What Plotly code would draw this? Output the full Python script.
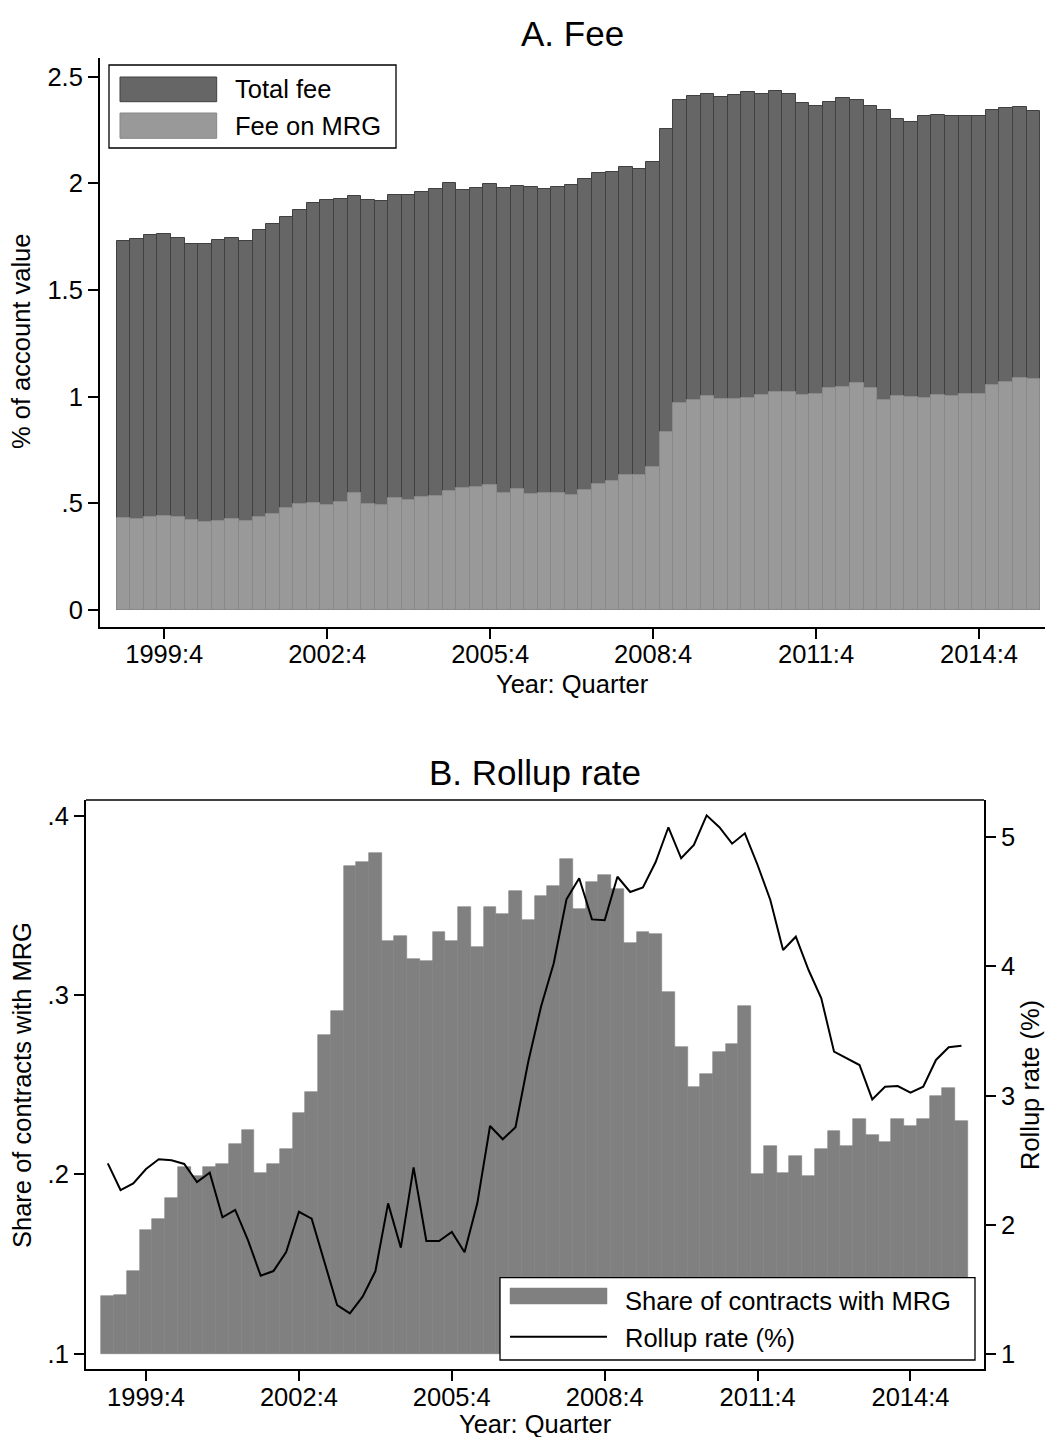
import plotly.graph_objects as go

# ---- data -------------------------------------------------------------
quarters = [f"{y}:{q}" for y in range(1999, 2016) for q in range(1, 5)]
tick_quarters = ["1999:4", "2002:4", "2005:4", "2008:4", "2011:4", "2014:4"]

total_fee = [
    1.730, 1.741, 1.756, 1.761, 1.745, 1.717, 1.717, 1.733, 1.745, 1.731,
    1.783, 1.808, 1.841, 1.873, 1.906, 1.920, 1.925, 1.939, 1.920, 1.916,
    1.947, 1.947, 1.961, 1.975, 2.002, 1.970, 1.980, 1.997, 1.978, 1.988,
    1.984, 1.973, 1.983, 1.994, 2.022, 2.050, 2.055, 2.077, 2.069, 2.102,
    2.256, 2.392, 2.411, 2.420, 2.406, 2.412, 2.430, 2.420, 2.434, 2.420,
    2.378, 2.362, 2.383, 2.400, 2.392, 2.364, 2.345, 2.302, 2.289, 2.316,
    2.322, 2.316, 2.314, 2.316, 2.345, 2.355, 2.359, 2.339,
]
mrg_fee = [
    0.430, 0.425, 0.434, 0.439, 0.437, 0.420, 0.414, 0.419, 0.425, 0.419,
    0.437, 0.448, 0.477, 0.498, 0.500, 0.494, 0.505, 0.547, 0.498, 0.491,
    0.523, 0.516, 0.528, 0.536, 0.559, 0.570, 0.575, 0.584, 0.550, 0.566,
    0.545, 0.550, 0.550, 0.539, 0.561, 0.592, 0.603, 0.634, 0.634, 0.669,
    0.836, 0.972, 0.984, 1.002, 0.989, 0.989, 0.995, 1.009, 1.023, 1.023,
    1.009, 1.014, 1.042, 1.047, 1.066, 1.042, 0.986, 1.005, 0.998, 0.995,
    1.009, 1.005, 1.014, 1.014, 1.056, 1.070, 1.089, 1.083,
]
share_mrg = [
    0.132, 0.133, 0.146, 0.169, 0.175, 0.187, 0.204, 0.199, 0.204, 0.206,
    0.217, 0.225, 0.201, 0.206, 0.214, 0.234, 0.246, 0.278, 0.291, 0.372,
    0.374, 0.379, 0.330, 0.333, 0.320, 0.319, 0.335, 0.330, 0.349, 0.327,
    0.349, 0.345, 0.358, 0.342, 0.355, 0.361, 0.376, 0.348, 0.363, 0.367,
    0.359, 0.329, 0.335, 0.334, 0.302, 0.271, 0.249, 0.256, 0.268, 0.273,
    0.294, 0.200, 0.216, 0.201, 0.210, 0.199, 0.214, 0.224, 0.216, 0.231,
    0.222, 0.218, 0.231, 0.227, 0.231, 0.244, 0.248, 0.230,
]
rollup_rate = [
    2.476, 2.269, 2.321, 2.432, 2.507, 2.499, 2.471, 2.331, 2.403, 2.058,
    2.115, 1.882, 1.606, 1.642, 1.789, 2.101, 2.047, 1.707, 1.379, 1.315,
    1.444, 1.640, 2.166, 1.823, 2.445, 1.875, 1.875, 1.944, 1.787, 2.166,
    2.765, 2.662, 2.755, 3.262, 3.688, 4.024, 4.519, 4.682, 4.364, 4.357,
    4.694, 4.576, 4.612, 4.808, 5.077, 4.837, 4.940, 5.169, 5.077, 4.950,
    5.030, 4.785, 4.514, 4.127, 4.230, 3.972, 3.753, 3.340, 3.289, 3.237,
    2.971, 3.069, 3.074, 3.023, 3.069, 3.276, 3.374, 3.386,
]
share_base = 0.1

fee_ticks = [0, 0.5, 1, 1.5, 2, 2.5]
fee_ticktext = ["0", ".5", "1", "1.5", "2", "2.5"]
share_ticks = [0.1, 0.2, 0.3, 0.4]
share_ticktext = [".1", ".2", ".3", ".4"]
rate_ticks = [1, 2, 3, 4, 5]

# ---- page geometry (pixels) -------------------------------------------
W, H = 1045, 1437
FONT = "Liberation Sans, Arial, sans-serif"
TICK_SIZE = 25.5
TITLE_SIZE = 35


def px(x):
    return x / W


def py(y):
    return 1 - y / H


fig = go.Figure()

# Panel A: total fee with the MRG part overlaid
fig.add_trace(go.Bar(
    x=quarters, y=total_fee, name="Total fee",
    marker=dict(color="#666666", line=dict(color="#404040", width=1)),
    xaxis="x", yaxis="y", showlegend=False,
))
fig.add_trace(go.Bar(
    x=quarters, y=mrg_fee, name="Fee on MRG",
    marker=dict(color="#999999", line=dict(color="#888888", width=1)),
    xaxis="x", yaxis="y", showlegend=False,
))

# Panel B: share of contracts (bars from .1) and rollup rate (right axis)
fig.add_trace(go.Bar(
    x=quarters, y=[s - share_base for s in share_mrg], base=share_base,
    name="Share of contracts with MRG",
    marker=dict(color="#808080", line=dict(color="#808080", width=0.6)),
    xaxis="x2", yaxis="y2", showlegend=False,
))
fig.add_trace(go.Scatter(
    x=quarters, y=rollup_rate, mode="lines", name="Rollup rate (%)",
    line=dict(color="black", width=2),
    xaxis="x2", yaxis="y3", showlegend=False,
))

axis_common = dict(
    showline=True, linecolor="black", linewidth=2,
    ticks="outside", ticklen=10, tickwidth=1.5, tickcolor="black",
    showgrid=False, zeroline=False,
    tickfont=dict(family=FONT, size=TICK_SIZE, color="black"),
)

fig.update_layout(
    width=W, height=H,
    margin=dict(l=0, r=0, t=0, b=0),
    paper_bgcolor="white", plot_bgcolor="white",
    barmode="overlay", bargap=0,
    font=dict(family=FONT, size=TICK_SIZE, color="black"),
    xaxis=dict(
        domain=[px(100), 1.0], anchor="y", type="category",
        categoryorder="array", categoryarray=quarters,
        range=[-1.73, 67.86], tickvals=tick_quarters, ticktext=tick_quarters,
        ticklabelstandoff=-7,
        **axis_common,
    ),
    yaxis=dict(
        domain=[py(627), py(58)], anchor="x",
        range=[-0.0797, 2.5875], tickvals=fee_ticks, ticktext=fee_ticktext,
        **axis_common,
    ),
    xaxis2=dict(
        domain=[px(86), px(984)], anchor="y2", type="category",
        categoryorder="array", categoryarray=quarters,
        range=[-1.711, 68.77], tickvals=tick_quarters, ticktext=tick_quarters,
        ticklabelstandoff=-6,
        **axis_common,
    ),
    yaxis2=dict(
        domain=[py(1369.3), py(800)], anchor="x2",
        range=[0.0913, 0.4088], tickvals=share_ticks, ticktext=share_ticktext,
        **axis_common,
    ),
    yaxis3=dict(
        overlaying="y2", side="right", anchor="x2",
        range=[0.8816, 5.288], tickvals=rate_ticks,
        **axis_common,
    ),
)

shapes = []
annotations = []


def text(x, y, s, size=TICK_SIZE, xanchor="center", angle=0):
    annotations.append(dict(
        x=px(x), y=py(y), xref="paper", yref="paper", text=s,
        showarrow=False, xanchor=xanchor, yanchor="middle", textangle=angle,
        font=dict(family=FONT, size=size, color="black"),
    ))


def rect(x0, y0, x1, y1, fill, line, lw):
    shapes.append(dict(
        type="rect", xref="paper", yref="paper", layer="above",
        x0=px(x0), x1=px(x1), y0=py(y1), y1=py(y0),
        fillcolor=fill, line=dict(color=line, width=lw),
    ))


# titles
text(572, 34, "A. Fee", size=TITLE_SIZE)
text(535, 772, "B. Rollup rate", size=TITLE_SIZE)

# axis titles
text(572, 684, "Year: Quarter")
text(535, 1424, "Year: Quarter")
text(21, 342, "% of account value", angle=-90)
text(22, 1085, "Share of contracts with MRG", angle=-90)
text(1030, 1085, "Rollup rate (%)", angle=-90)

# top border of panel B
shapes.append(dict(
    type="line", xref="paper", yref="paper", layer="above",
    x0=px(86), x1=px(984), y0=py(800), y1=py(800),
    line=dict(color="black", width=1.5),
))

# legend, panel A
rect(109, 65, 396, 148, "white", "black", 1.3)
rect(120, 77, 216.7, 101.7, "#666666", "#404040", 1)
rect(120, 113, 216.7, 138.3, "#999999", "#888888", 1)
text(233, 89, "Total fee", xanchor="left")
text(233, 126, "Fee on MRG", xanchor="left")

# legend, panel B
rect(500, 1277.7, 975, 1360, "white", "black", 1.3)
rect(510, 1288, 607, 1304, "#808080", "#808080", 0.5)
shapes.append(dict(
    type="line", xref="paper", yref="paper", layer="above",
    x0=px(510), x1=px(607), y0=py(1336.7), y1=py(1336.7),
    line=dict(color="black", width=2),
))
text(622.7, 1301, "Share of contracts with MRG", xanchor="left")
text(622.7, 1338, "Rollup rate (%)", xanchor="left")

fig.update_layout(shapes=shapes, annotations=annotations)

fig.write_html("out.html")
